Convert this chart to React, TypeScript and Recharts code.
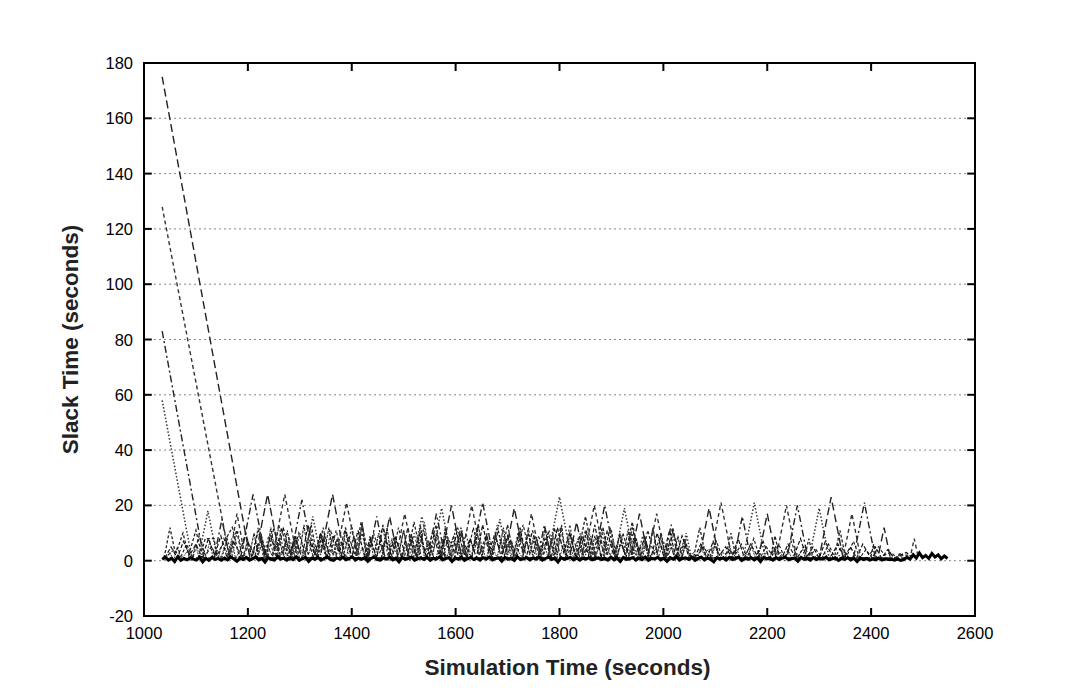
import React from "react";
import { LineChart, Line, XAxis, YAxis, CartesianGrid, Label, ReferenceArea, ReferenceLine } from "recharts";

// ---- axes ----
const xTicks = [1000, 1200, 1400, 1600, 1800, 2000, 2200, 2400, 2600];
const yTicks = [-20, 0, 20, 40, 60, 80, 100, 120, 140, 160, 180];
const xMin = 1000, xMax = 2600, yMin = -20, yMax = 180;

// ---- explicit vertex lists [time, slack] ----
const seriesLongDash: [number, number][] = [
  [1035, 175], [1205, 0],
  [1214, 1], [1238, 24], [1262, 1],
  [1339, 1], [1363, 24], [1387, 1],
  [1457, 1], [1473, 16], [1489, 1],
  [1572, 1], [1592, 20], [1612, 1],
  [1694, 1], [1713, 19], [1732, 1],
  [1819, 1], [1833, 14], [1847, 1],
  [1937, 1], [1954, 17], [1971, 1],
  [2069, 1], [2088, 19], [2107, 1],
  [2183, 1], [2200, 17], [2217, 1],
  [2300, 1], [2323, 23], [2346, 1],
  [2413, 1], [2425, 12], [2437, 1],
];

const seriesDash: [number, number][] = [
  [1035, 128], [1165, 1],
  [1179, 17], [1195, 1],
  [1247, 1], [1271, 24], [1295, 1],
  [1369, 1], [1390, 21], [1411, 1],
  [1485, 1], [1502, 17], [1519, 1],
  [1611, 1], [1631, 20], [1651, 1],
  [1729, 1], [1746, 17], [1763, 1],
  [1847, 1], [1867, 20], [1887, 1],
  [1970, 1], [1987, 17], [2004, 1],
  [2090, 1], [2111, 21], [2132, 1],
  [2217, 1], [2237, 20], [2257, 1],
  [2346, 1], [2363, 17], [2380, 1],
  [2475, 1], [2483, 8], [2491, 1],
];

const seriesDashDot: [number, number][] = [
  [1035, 83], [1115, 1],
  [1135, 1], [1150, 15], [1165, 1],
  [1186, 1], [1210, 24], [1234, 1],
  [1282, 1], [1304, 22], [1326, 1],
  [1432, 1], [1448, 16], [1464, 1],
  [1546, 1], [1563, 17], [1580, 1],
  [1631, 1], [1652, 21], [1673, 1],
  [1758, 1], [1771, 13], [1784, 1],
  [1867, 1], [1887, 20], [1907, 1],
  [2002, 1], [2015, 13], [2028, 1],
  [2136, 1], [2152, 16], [2168, 1],
  [2238, 1], [2258, 20], [2278, 1],
  [2366, 1], [2387, 21], [2408, 1],
];

const seriesDotted: [number, number][] = [
  [1035, 58], [1092, 1],
  [1105, 1], [1123, 18], [1141, 1],
  [1309, 1], [1325, 16], [1341, 1],
  [1519, 1], [1535, 16], [1551, 1],
  [1554, 1], [1573, 19], [1592, 1],
  [1670, 1], [1685, 15], [1700, 1],
  [1777, 1], [1800, 23], [1823, 1],
  [1906, 1], [1925, 19], [1944, 1],
  [2034, 1], [2044, 10], [2054, 1],
  [2154, 1], [2175, 21], [2196, 1],
  [2281, 1], [2300, 19], [2319, 1],
];

const seriesShortDash: [number, number][] = [
  [1038, 1], [1042, 4], [1050, 12], [1060, 3], [1064, 4], [1075, 10], [1086, 2],
  [1100, 11], [1110, 3], [1118, 8], [1135, 8], [1140, 2], [1170, 12], [1184, 1],
  [1253, 1], [1265, 12], [1277, 1], [1281, 1], [1290, 9], [1299, 1],
  [1333, 1], [1345, 12], [1357, 1], [1407, 1], [1420, 13], [1433, 1],
  [1506, 1], [1520, 14], [1534, 1], [1598, 1], [1610, 12], [1622, 1],
  [1687, 1], [1700, 13], [1713, 1], [1778, 1], [1790, 12], [1802, 1],
  [1834, 1], [1850, 16], [1866, 1], [1926, 1], [1940, 14], [1954, 1],
  [2058, 1], [2070, 12], [2082, 1], [2120, 1], [2130, 10], [2140, 1],
  [2206, 1], [2215, 9], [2224, 1], [2272, 1], [2280, 8], [2288, 1],
  [2329, 1], [2340, 11], [2351, 1], [2399, 1], [2405, 6], [2411, 1],
  [2452, 1], [2455, 3], [2458, 1],
];

// ---- regularly sampled series ----
const clutterAStart = 1040;
const clutterAStep = 12;
const clutterA = [
  1, 5, 1, 7, 2, 6, 1, 8, 2, 9, 1, 7, 3, 10,
  1, 11, 2, 9, 1, 12, 3, 8, 1, 13, 2, 10, 1, 9, 3, 12, 1, 11, 2, 8,
  1, 13, 2, 9, 1, 12, 3, 10, 1, 11, 2, 9, 1, 12, 2, 8, 1, 13, 3, 10,
  1, 9, 2, 12, 1, 11, 2, 8, 1, 12, 3, 10, 1, 9, 2, 13, 1, 11, 2, 9,
  1, 12, 3, 8, 1, 10, 2, 11, 1, 9, 2,
  1, 6, 1, 7, 2, 5, 1, 8, 1, 6, 2, 7, 1, 5, 1, 6, 2, 8, 1, 5, 1, 7,
  2, 6, 1, 5, 1, 6, 2, 5, 1, 4, 1,
  2, 3, 1,
];

const clutterBStart = 1046;
const clutterBStep = 12;
const clutterB = [
  2, 4, 1, 6, 1, 9, 2, 5, 1, 8, 2, 11, 1, 6,
  2, 9, 1, 12, 2, 7, 1, 10, 3, 13, 1, 8, 2, 11, 1, 9, 2, 14, 1, 10,
  3, 8, 1, 12, 2, 9, 1, 11, 2, 13, 1, 8, 3, 10, 1, 12, 2, 9, 1, 11,
  2, 7, 1, 13, 3, 9, 1, 10, 2, 12, 1, 8, 2, 11, 1, 9, 3, 12, 1, 10,
  2, 8, 1, 11, 2, 9, 1, 12, 2, 7, 1,
  2, 5, 1, 7, 1, 4, 2, 6, 1, 8, 1, 5, 2, 6, 1, 7, 1, 5, 2, 4, 1, 6,
  1, 5, 2, 7, 1, 4, 1, 5, 2, 3, 1,
  2, 2, 1,
];

const clutterCStart = 1150;
const clutterCStep = 10;
const clutterC = [
  1, 8, 2, 11, 1, 7, 3, 12, 1, 9, 2, 13, 1, 8, 2, 10, 1, 12, 3, 9,
  1, 11, 2, 7, 1, 13, 2, 10, 1, 9, 3, 12, 1, 8, 2, 11, 1, 10, 2, 14,
  1, 9, 3, 8, 1, 12, 2, 10, 1, 11, 2, 9, 1, 13, 3, 8, 1, 10, 2, 12,
  1, 9, 2, 11, 1, 8, 3, 13, 1, 10, 2, 9, 1, 12, 2, 11, 1, 8, 3, 10,
  1, 9, 2, 12, 1, 7, 2, 10, 1, 8, 1,
];

const clutterDStart = 1204;
const clutterDStep = 8;
const clutterD = [
  3, 10, 2, 7, 1, 12, 4, 8, 2, 11, 1, 9, 3, 13, 2, 6, 1, 10, 4, 12,
  2, 8, 1, 11, 3, 9, 2, 14, 1, 7, 3, 10, 2, 12, 1, 8, 4, 11, 2, 9,
  1, 13, 3, 7, 2, 10, 1, 12, 4, 9, 2, 11, 1, 8, 3, 13, 2, 10, 1, 9,
  4, 12, 2, 7, 1, 11, 3, 10, 2, 8, 1, 12, 4, 9, 2, 13, 1, 10, 3, 8,
  2, 11, 1, 9, 4, 12, 2, 7, 1, 10, 3, 11, 2, 8, 1, 9, 3, 12, 2, 10,
  1, 7, 2, 9, 1, 8,
];

const clutterEStart = 1043;
const clutterEStep = 7;
const clutterE = [
  1, 3, 0, 5, 1, 2, 4, 0, 6, 1, 3, 2, 7, 0, 4, 1, 5, 2, 8, 1,
  3, 0, 6, 2, 4, 1, 9, 0, 5, 2, 7, 1, 3, 6, 0, 8, 2, 4, 1, 7,
  3, 0, 5, 9, 1, 4, 2, 6, 0, 8, 3, 1, 7, 2, 5, 0, 9, 1, 4, 6,
  2, 0, 8, 3, 5, 1, 7, 0, 4, 2, 9, 1, 6, 3, 0, 5, 8, 1, 4, 2,
  7, 0, 6, 3, 1, 9, 2, 5, 0, 7, 4, 1, 8, 2, 6, 0, 5, 3, 1, 7,
  2, 9, 0, 4, 6, 1, 8, 3, 0, 5, 2, 7, 1, 4, 0, 6, 3, 8, 1, 5,
  0, 7, 2, 4, 1, 6, 3, 0, 8, 2, 5, 1, 7, 0, 4, 3, 6, 1, 2, 5,
  0, 4, 2, 6, 1, 3, 0, 5, 2, 4, 1, 6, 0, 3, 2, 5, 1, 4, 0, 3,
  2, 5, 1, 4, 0, 3, 1, 5, 2, 3, 0, 4, 1, 3, 2, 4, 0, 3, 1, 2,
  0, 3, 1, 2, 0, 2, 1, 3, 0, 2,
];

const baseStart = 1035;
const baseStep = 6;
const baseline = [
  0.5, 1.2, 0.2, 0.9, -0.3, 1.4, 0.1, 0.8, 0.3, 1.1, 0.6, 0.2, 1.3, -0.4, 0.9, 0.1, 1.2, 0.5, 0.8, 0.2,
  1.0, 0.3, 1.4, 0.6, -0.2, 0.9, 0.4, 1.2, 0.2, 0.7, 1.3, 0.3, 0.8, -0.5, 1.1, 0.5, 0.2, 1.3, 0.6, 0.9,
  0.2, 1.0, 0.4, 1.4, 0.1, 0.7, 1.2, -0.3, 0.9, 0.5, 1.1, 0.2, 0.8, 1.3, 0.4, 0.1, 1.0, 0.6, 1.2, 0.3,
  0.7, 1.4, 0.2, 0.9, 0.5, 1.1, -0.2, 0.8, 1.3, 0.4, 0.2, 1.0, 0.6, 1.2, 0.3, 0.9, -0.4, 1.1, 0.5, 0.8,
  1.3, 0.2, 0.7, 1.0, 0.4, 1.2, 0.1, 0.9, 0.6, 1.4, 0.3, 0.8, 1.1, -0.3, 1.0, 0.5, 1.3, 0.1, 0.7, 1.2,
  0.4, 0.9, 0.2, 1.1, 0.6, 1.3, 0.3, 0.8, 1.0, -0.2, 1.2, 0.5, 0.9, 0.1, 1.4, 0.4, 0.7, 1.1, 0.3, 1.0,
  0.6, 1.2, 0.2, 0.8, 1.3, 0.4, 0.9, -0.5, 1.1, 0.5, 0.8, 1.2, 0.3, 1.0, 0.2, 0.9, 0.6, 1.1, 0.3, 0.7,
  1.0, 0.4, 0.8, 0.2, 1.3, 0.3, 0.9, -0.3, 1.2, 0.5, 0.7, 1.1, 0.2, 1.0, 0.4, 1.3, 0.1, 0.8, 0.6, 1.2,
  0.3, 0.9, -0.2, 1.1, 0.5, 1.4, 0.2, 0.8, 1.0, 0.4, 1.2, 0.1, 0.7, 1.3, 0.3, 0.9, 0.5, -0.4, 1.1, 0.6,
  1.0, 0.2, 1.2, 0.4, 0.8, 1.3, 0.1, 0.9, 0.5, 1.1, 0.3, 1.0, -0.3, 1.2, 0.6, 0.8, 0.2, 1.1, 0.4, 0.9,
  1.3, 0.3, 0.7, 1.0, -0.2, 1.2, 0.5, 0.8, 0.2, 1.1, 0.4, 0.9, 0.6, 1.2, 0.3, 0.7, 1.0, 0.1, 0.8, 0.5,
  1.1, 0.3, 0.9, -0.3, 1.0, 0.4, 0.8, 0.2, 0.6, 0.3, 1.0, 0.2, 0.7, 0.4, 0.5, 0.2, 0.6, 0.1, 0.4,
  1.2, 0.6, 2.2, 1.0, 2.8, 1.1, 1.9, 0.8, 2.6, 1.3, 2.1, 0.7, 1.7, 0.8,
];

const toPoints = (arr: [number, number][]) => arr.map(([x, y]) => ({ x, y }));
const toSampled = (start: number, step: number, ys: number[]) =>
  ys.map((y, i) => ({ x: start + i * step, y }));

const FONT = "'Liberation Sans', Arial, Helvetica, sans-serif";
const TICK_FONT = 16.5;
// inward tick length expressed in axis units (~8px)
const X_TICK_UNITS = 15;
const Y_TICK_UNITS = 2.9;

const BottomTick = (props: any) => {
  const { x, y, payload } = props;
  return (
    <text x={x} y={y + 23} textAnchor="middle" fontSize={TICK_FONT} fill="#000" fontFamily={FONT}>
      {payload.value}
    </text>
  );
};

const LeftTick = (props: any) => {
  const { x, y, payload } = props;
  return (
    <text x={x - 11} y={y + 6} textAnchor="end" fontSize={TICK_FONT} fill="#000" fontFamily={FONT}>
      {payload.value}
    </text>
  );
};

export default function App() {
  const common = { dot: false, isAnimationActive: false, xAxisId: "bottom", yAxisId: "left", dataKey: "y" } as const;
  const refCommon = { xAxisId: "bottom", yAxisId: "left", stroke: "#000", strokeWidth: 2, ifOverflow: "visible" } as const;
  const innerX = xTicks.slice(1, -1);
  const innerY = yTicks.slice(1, -1);
  return (
    <div style={{ width: 1062, height: 675, background: "#fff" }}>
      <LineChart
        width={1062}
        height={675}
        margin={{ top: 55, right: 95, bottom: 27, left: 20 }}
      >
        <CartesianGrid
          vertical={false}
          stroke="#888"
          strokeDasharray="2 3"
          yAxisId="left"
          xAxisId="bottom"
          horizontalValues={[0, 20, 40, 60, 80, 100, 120, 140, 160]}
        />
        <XAxis
          xAxisId="bottom"
          dataKey="x"
          type="number"
          domain={[xMin, xMax]}
          ticks={xTicks}
          allowDataOverflow
          height={40}
          tick={<BottomTick />}
          tickSize={0}
          tickMargin={0}
          axisLine={false}
          tickLine={false}
          interval={0}
        >
          <Label
            value="Simulation Time (seconds)"
            position="bottom"
            offset={3}
            dx={8}
            style={{ fontSize: 22.5, fontWeight: "bold", fill: "#222", fontFamily: FONT }}
          />
        </XAxis>
        <YAxis
          yAxisId="left"
          type="number"
          domain={[yMin, yMax]}
          ticks={yTicks}
          allowDataOverflow
          width={116}
          tick={<LeftTick />}
          tickSize={0}
          tickMargin={0}
          axisLine={false}
          tickLine={false}
          interval={0}
        >
          <Label
            value="Slack Time (seconds)"
            angle={-90}
            position="insideLeft"
            offset={42}
            style={{ fontSize: 22.5, fontWeight: "bold", fill: "#222", fontFamily: FONT, textAnchor: "middle" }}
          />
        </YAxis>
        <Line {...common} data={toSampled(clutterEStart, clutterEStep, clutterE)} stroke="#333" strokeWidth={1} strokeDasharray="2 1" />
        <Line {...common} data={toSampled(clutterDStart, clutterDStep, clutterD)} stroke="#222" strokeWidth={1.1} strokeDasharray="3 1" />
        <Line {...common} data={toSampled(clutterCStart, clutterCStep, clutterC)} stroke="#333" strokeWidth={1.2} strokeDasharray="2 2" />
        <Line {...common} data={toSampled(clutterBStart, clutterBStep, clutterB)} stroke="#222" strokeWidth={1.2} strokeDasharray="3 2" />
        <Line {...common} data={toSampled(clutterAStart, clutterAStep, clutterA)} stroke="#111" strokeWidth={1.2} strokeDasharray="4 2" />
        <Line {...common} data={toPoints(seriesShortDash)} stroke="#222" strokeWidth={1.3} strokeDasharray="3 2" />
        <Line {...common} data={toPoints(seriesDotted)} stroke="#333" strokeWidth={1.5} strokeDasharray="1.5 2" />
        <Line {...common} data={toPoints(seriesDashDot)} stroke="#222" strokeWidth={1.4} strokeDasharray="7 3 2 3" />
        <Line {...common} data={toPoints(seriesDash)} stroke="#333" strokeWidth={1.4} strokeDasharray="4 3" />
        <Line {...common} data={toPoints(seriesLongDash)} stroke="#222" strokeWidth={1.4} strokeDasharray="8 4" />
        <Line {...common} data={toSampled(baseStart, baseStep, baseline)} stroke="#000" strokeWidth={3} />
        <ReferenceArea
          xAxisId="bottom"
          yAxisId="left"
          x1={xMin}
          x2={xMax}
          y1={yMin}
          y2={yMax}
          fill="none"
          fillOpacity={0}
          stroke="#000"
          strokeWidth={2}
          ifOverflow="visible"
        />
        {innerX.map((v) => (
          <ReferenceLine key={`b${v}`} {...refCommon} segment={[{ x: v, y: yMin }, { x: v, y: yMin + Y_TICK_UNITS }]} />
        ))}
        {innerX.map((v) => (
          <ReferenceLine key={`t${v}`} {...refCommon} segment={[{ x: v, y: yMax }, { x: v, y: yMax - Y_TICK_UNITS }]} />
        ))}
        {innerY.map((v) => (
          <ReferenceLine key={`l${v}`} {...refCommon} segment={[{ x: xMin, y: v }, { x: xMin + X_TICK_UNITS, y: v }]} />
        ))}
        {innerY.map((v) => (
          <ReferenceLine key={`r${v}`} {...refCommon} segment={[{ x: xMax, y: v }, { x: xMax - X_TICK_UNITS, y: v }]} />
        ))}
      </LineChart>
    </div>
  );
}
